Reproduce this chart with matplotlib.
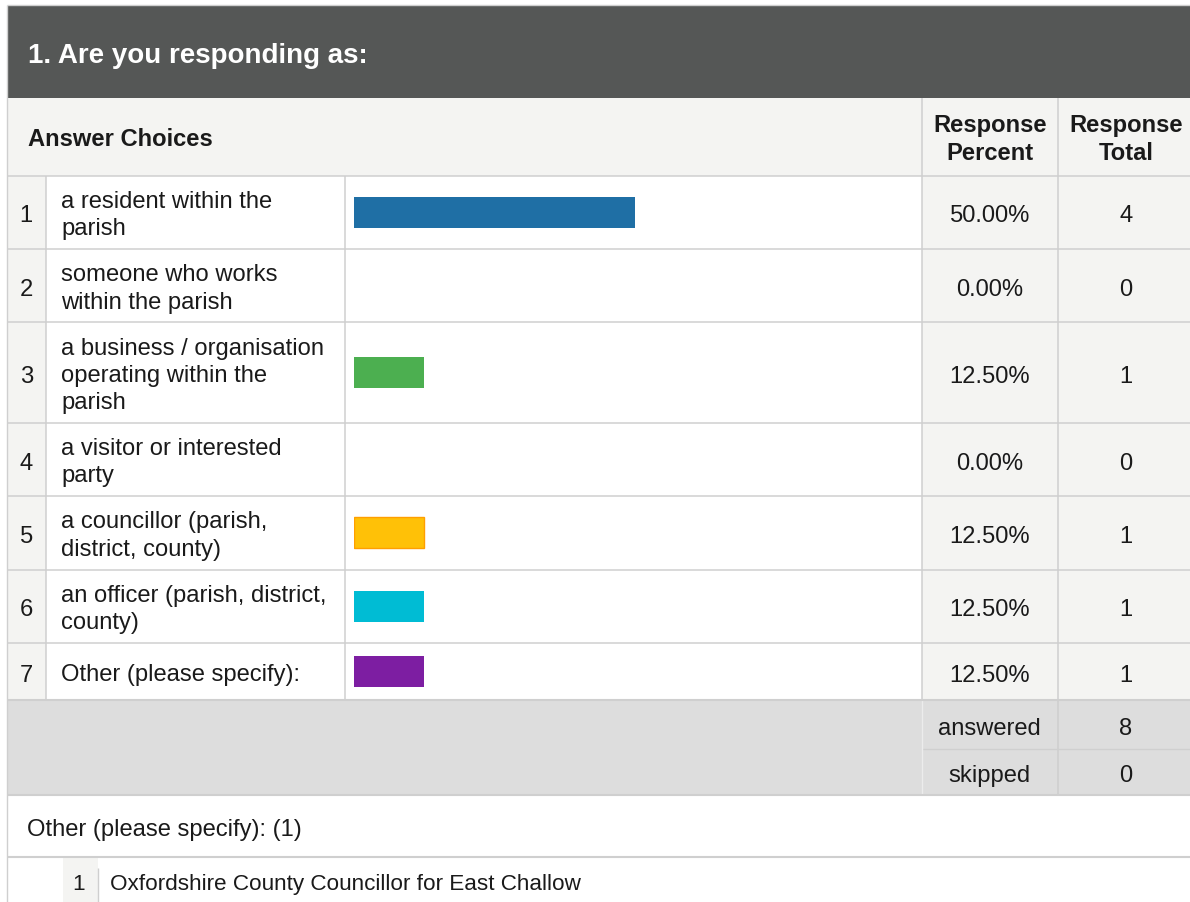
import matplotlib
matplotlib.use("Agg")
import matplotlib.pyplot as plt
from matplotlib.patches import Rectangle

# ---------------- data ----------------
question = "1. Are you responding as:"
header_choices = "Answer Choices"
header_percent = ["Response", "Percent"]
header_total = ["Response", "Total"]
choice_numbers = ["1", "2", "3", "4", "5", "6", "7"]
choice_labels = [
    ["a resident within the", "parish"],
    ["someone who works", "within the parish"],
    ["a business / organisation", "operating within the", "parish"],
    ["a visitor or interested", "party"],
    ["a councillor (parish,", "district, county)"],
    ["an officer (parish, district,", "county)"],
    ["Other (please specify):"],
]
response_percent = [50.0, 0.0, 12.5, 0.0, 12.5, 12.5, 12.5]
response_total = [4, 0, 1, 0, 1, 1, 1]
bar_colors = ["#1f6fa5", "#e53935", "#4caf50", "#ff7043", "#ffc107", "#00bcd4", "#7d1ea2"]
bar_edges = ["none", "none", "none", "none", "#ff9f00", "none", "none"]
summary_labels = ["answered", "skipped"]
summary_values = [8, 0]
other_header = "Other (please specify): (1)"
other_numbers = ["1"]
other_responses = ["Oxfordshire County Councillor for East Challow"]

# ---------------- style / layout ----------------
W, H = 1190, 903
FONT = "Liberation Sans"
FS = 17.1
TXT = "#1a1a1a"
GRID = "#cfcfcf"
LIGHT = "#f4f4f2"
BAND = "#dddddd"
DARK = "#555756"
LINE_H = 27.3
BASE_OFF = 21.9

X_LEFT = 6.7
X_NUM = 45.7
X_LABEL = 344.7
X_PCT = 921.7
X_TOT = 1057.7
X_RIGHT = 1196
BAR_X0 = 354
BAR_FULL = 561

fig = plt.figure(figsize=(W / 100, H / 100), dpi=100)
ax = fig.add_axes([0, 0, 1, 1])
ax.set_xlim(0, W)
ax.set_ylim(H, 0)
ax.axis("off")


def rect(x0, y0, x1, y1, color, z=1):
    ax.add_patch(Rectangle((x0, y0), x1 - x0, y1 - y0, facecolor=color,
                           edgecolor="none", zorder=z))


def hline(y, x0, x1, lw=1.1, color=GRID, z=3):
    ax.plot([x0, x1], [y, y], color=color, lw=lw, zorder=z, solid_capstyle="butt")


def vline(x, y0, y1, lw=1.1, color=GRID, z=3):
    ax.plot([x, x], [y0, y1], color=color, lw=lw, zorder=z, solid_capstyle="butt")


def txt(x, y, s, ha="left", size=FS, weight="normal", color=TXT):
    ax.text(x, y, s, ha=ha, va="baseline", fontsize=size, fontweight=weight,
            color=color, family=FONT, zorder=5)


# title band
Y_TITLE0, Y_TITLE1 = 7.3, 99.0
rect(X_LEFT, Y_TITLE0, W, Y_TITLE1, DARK)
txt(28, 62.7, question, size=20, weight="bold", color="white")
hline(6.3, X_LEFT, W, lw=1.0)

# header row
Y_HEAD1 = 176.7
rect(X_LEFT, Y_TITLE1, W, Y_HEAD1, LIGHT)
txt(28, 145.7, header_choices, weight="bold")
hc = (Y_TITLE1 + Y_HEAD1) / 2
pct_c = (X_PCT + X_TOT) / 2
tot_c = 1126
for i, (a, b) in enumerate(zip(header_percent, header_total)):
    yb = hc - len(header_percent) * LINE_H / 2 + i * LINE_H + BASE_OFF
    txt(pct_c, yb, a, ha="center", weight="bold")
    txt(tot_c, yb, b, ha="center", weight="bold")
vline(X_PCT, Y_TITLE1, Y_HEAD1)
vline(X_TOT, Y_TITLE1, Y_HEAD1)
hline(Y_HEAD1, X_LEFT, W)

# data rows
tops, bottoms, centers = [], [], []
y = Y_HEAD1
for lab in choice_labels:
    h = max(57.5, len(lab) * LINE_H + 18.7)
    tops.append(y)
    bottoms.append(y + h)
    centers.append(y + h / 2)
    y += h
Y_ROWS_END = y

rect(X_LEFT, Y_HEAD1, X_NUM, Y_ROWS_END, LIGHT)
rect(X_PCT, Y_HEAD1, W, Y_ROWS_END, LIGHT)
for num, lab, p, t, t0, b0, c in zip(choice_numbers, choice_labels, response_percent,
                                      response_total, tops, bottoms, centers):
    txt((X_LEFT + X_NUM) / 2, c + 9, num, ha="center")
    top = c - len(lab) * LINE_H / 2
    for i, line in enumerate(lab):
        txt(61, top + i * LINE_H + BASE_OFF, line)
    txt(pct_c, c + 9, f"{p:.2f}%", ha="center")
    txt(tot_c, c + 9, str(t), ha="center")
    hline(b0, X_LEFT, W)
for xv in (X_NUM, X_LABEL, X_PCT, X_TOT):
    vline(xv, Y_HEAD1, Y_ROWS_END)

# bars via their own axes (percentage scale)
bax = fig.add_axes([BAR_X0 / W, 0, BAR_FULL / W, 1])
bax.set_xlim(0, 100)
bax.set_ylim(H, 0)
bax.axis("off")
bax.barh(centers, response_percent, height=31, left=0, color=bar_colors,
         edgecolor=bar_edges, linewidth=1.0, zorder=4)

# summary band
Y_SUM1 = 795.7
Y_SUMMID = 750.3
rect(X_LEFT, Y_ROWS_END, W, Y_SUM1, BAND)
sum_rows = [(Y_ROWS_END, Y_SUMMID), (Y_SUMMID, Y_SUM1)]
for (a, b), lab, v in zip(sum_rows, summary_labels, summary_values):
    c = (a + b) / 2
    txt(pct_c, c + 9, lab, ha="center")
    txt(tot_c, c + 9, str(v), ha="center")
hline(Y_SUMMID, X_PCT, W, lw=1.0)
vline(X_PCT, Y_ROWS_END, Y_SUM1, color="#ececec", lw=1.0)
vline(X_TOT, Y_ROWS_END, Y_SUM1, lw=1.2)
hline(Y_ROWS_END, X_LEFT, W, lw=1.5)
hline(Y_SUM1, X_LEFT, W, lw=1.5)

# other responses
Y_OTH1 = 857.7
txt(27.3, (Y_SUM1 + Y_OTH1) / 2 + 9, other_header)
hline(Y_OTH1, X_LEFT, W, lw=1.5)
y = Y_OTH1
for num, resp in zip(other_numbers, other_responses):
    rect(63, y + 1.3, 97.5, y + 60, LIGHT)
    vline(97.5, y + 11, y + 60, lw=1.0)
    txt(85, y + 32.3, num, ha="right", size=16.2)
    txt(109.5, y + 32.3, resp, size=16.2)
    y += 60

vline(X_LEFT, 6.3, H, lw=1.0)

fig.savefig("out.png", dpi=100, facecolor="white")
